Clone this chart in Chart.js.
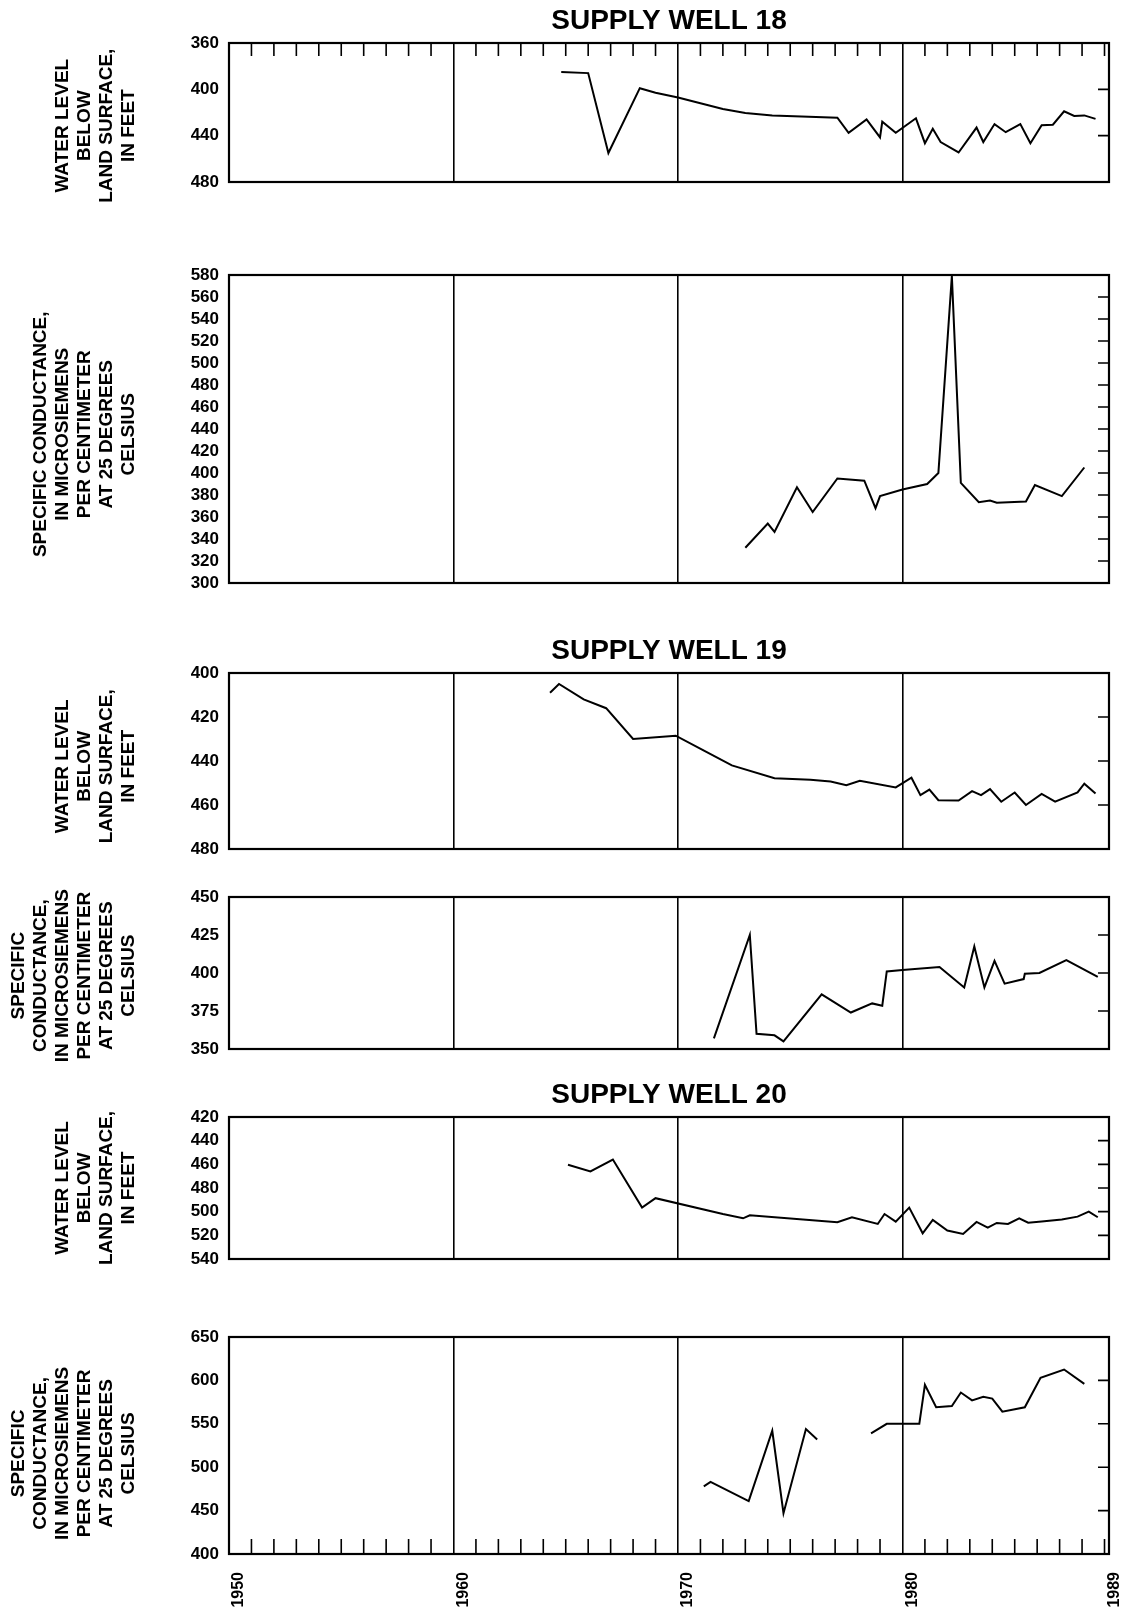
<!DOCTYPE html>
<html>
<head>
<meta charset="utf-8">
<script src="https://cdn.jsdelivr.net/npm/chart.js@4.4.1/dist/chart.umd.min.js"></script>
<style>
  html, body { margin: 0; padding: 0; background: #fff; overflow: hidden; }
  canvas { position: absolute; left: 0; }
</style>
</head>
<body>
<canvas id="c1"></canvas>
<canvas id="c2"></canvas>
<canvas id="c3"></canvas>
<canvas id="c4"></canvas>
<canvas id="c5"></canvas>
<canvas id="c6"></canvas>
<script>
// x axis
const xTickYears = [1950, 1960, 1970, 1980, 1989];
const gridYears = [1960, 1970, 1980];

// supply well 18
const w18LevelYears = [1964.8, 1966.0, 1966.9, 1968.3, 1969.0, 1970.0, 1971.0, 1972.0, 1973.0, 1974.2, 1975.5, 1977.1, 1977.6, 1978.4, 1979.0, 1979.1, 1979.7, 1980.6, 1981.0, 1981.35, 1981.7, 1982.5, 1983.3, 1983.6, 1984.1, 1984.6, 1985.25, 1985.7, 1986.2, 1986.7, 1987.2, 1987.65, 1988.1, 1988.6];
const w18LevelValues = [385, 386, 455, 399, 403, 407, 412, 417, 420.5, 422.5, 423.5, 424.5, 437.5, 426, 441.5, 428, 437.5, 425, 446.5, 434, 445.5, 454.5, 433, 445.5, 430, 437, 430, 446.5, 431, 430.5, 419, 423, 422.5, 425.5];
const w18CondYears = [1973.0, 1974.0, 1974.3, 1975.3, 1976.0, 1977.1, 1978.3, 1978.8, 1979.0, 1980.0, 1981.1, 1981.6, 1982.2, 1982.6, 1983.4, 1983.9, 1984.2, 1985.5, 1985.9, 1987.1, 1988.1];
const w18CondValues = [332, 354, 346.5, 387, 364.5, 395, 393, 368, 379, 385, 390, 400, 579, 391, 373.5, 375, 373, 374, 389, 379, 405];

// supply well 19
const w19LevelYears = [1964.3, 1964.7, 1965.8, 1966.8, 1968.0, 1969.9, 1971.2, 1972.4, 1974.3, 1975.9, 1976.8, 1977.5, 1978.1, 1979.7, 1980.4, 1980.8, 1981.2, 1981.6, 1982.5, 1983.1, 1983.5, 1983.9, 1984.4, 1985.0, 1985.5, 1986.2, 1986.8, 1987.8, 1988.1, 1988.6];
const w19LevelValues = [409, 405, 412, 416, 430, 428.5, 435.5, 442, 447.8, 448.5, 449.3, 451, 449, 452, 447.6, 455.5, 453, 457.8, 458, 453.7, 455.5, 452.8, 458.5, 454.3, 460, 455, 458.5, 454.3, 450.3, 454.8];
const w19CondYears = [1971.6, 1973.2, 1973.5, 1974.3, 1974.7, 1976.4, 1977.7, 1978.65, 1979.1, 1979.3, 1980.0, 1981.65, 1982.75, 1983.2, 1983.65, 1984.1, 1984.55, 1985.4, 1985.45, 1986.1, 1987.3, 1988.7];
const w19CondValues = [357, 425, 360, 359, 355, 386, 374, 380, 378.5, 401, 402, 404, 390.5, 417.5, 390.5, 408, 393, 396, 399.5, 400, 408.5, 397.5];

// supply well 20
const w20LevelYears = [1965.1, 1966.1, 1967.1, 1968.4, 1969.0, 1972.0, 1972.9, 1973.2, 1977.1, 1977.75, 1978.9, 1979.2, 1979.7, 1980.3, 1980.9, 1981.35, 1982.0, 1982.7, 1983.3, 1983.8, 1984.2, 1984.7, 1985.2, 1985.6, 1986.2, 1987.1, 1987.8, 1988.3, 1988.7];
const w20LevelValues = [460.4, 466, 456, 496.6, 488.6, 502, 505.6, 503, 509, 504.7, 510.4, 502, 508.4, 496.6, 518.3, 507, 516, 518.9, 508.7, 513.5, 509.5, 510.4, 505.6, 509.3, 508.4, 506.7, 504.2, 500, 504.7];
const w20CondYears = [1971.15, 1971.45, 1973.15, 1974.2, 1974.7, 1975.7, 1976.2, 1977.4, 1978.6, 1979.3, 1980.75, 1981.0, 1981.5, 1982.2, 1982.6, 1983.1, 1983.6, 1984.0, 1984.45, 1985.45, 1986.15, 1987.2, 1988.1];
const w20CondValues = [478, 483, 461, 542, 447, 544, 532, null, 539, 550, 550, 595, 569, 570.5, 586, 577, 581, 579, 564, 569, 603, 612.5, 596];

const levelLabel = ['WATER LEVEL', 'BELOW', 'LAND SURFACE,', 'IN FEET'];
const condLabelWide = ['SPECIFIC CONDUCTANCE,', 'IN MICROSIEMENS', 'PER CENTIMETER', 'AT 25 DEGREES', 'CELSIUS'];
const condLabel = ['SPECIFIC', 'CONDUCTANCE,', 'IN MICROSIEMENS', 'PER CENTIMETER', 'AT 25 DEGREES', 'CELSIUS'];

Chart.defaults.font.family = '"Liberation Sans", Arial, Helvetica, sans-serif';
Chart.defaults.color = '#000';

const PLOT_LEFT = 229;
const PLOT_RIGHT = 1109;
const W = 1135;
const LABEL_SIZE = 19;
const LABEL_STEP = 22;

// frame, inward y ticks on the right, short year ticks
const frameTicks = {
  id: 'frameTicks',
  afterDraw(chart, args, opts) {
    const { ctx, chartArea: a, scales: { x, y } } = chart;
    ctx.save();
    ctx.strokeStyle = '#000';
    ctx.lineWidth = 1.6;
    ctx.beginPath();
    y.ticks.forEach(t => {
      if (t.value === y.min || t.value === y.max) return;
      const py = y.getPixelForValue(t.value);
      ctx.moveTo(a.right - 11, py);
      ctx.lineTo(a.right, py);
    });
    if (opts.minor) {
      for (let yr = 1951; yr <= 1989; yr++) {
        if (yr % 10 === 0) continue;
        const px = x.getPixelForValue(yr);
        if (opts.minor === 'top') {
          ctx.moveTo(px, a.top);
          ctx.lineTo(px, a.top + 13);
        } else {
          ctx.moveTo(px, a.bottom - 15);
          ctx.lineTo(px, a.bottom);
        }
      }
    }
    ctx.stroke();
    ctx.lineWidth = 2.2;
    ctx.strokeRect(a.left, a.top, a.right - a.left, a.bottom - a.top);
    ctx.restore();
  }
};

// shift = trailing spaces that move the rotated axis title a little below the panel centre
const panels = [
  { id: 'c1', title: 'SUPPLY WELL 18', top: 43, bottom: 182, years: w18LevelYears, values: w18LevelValues, min: 360, max: 480, step: 40, reverse: true, label: levelLabel, shift: 5, minor: 'top' },
  { id: 'c2', top: 275, bottom: 583, years: w18CondYears, values: w18CondValues, min: 300, max: 580, step: 20, label: condLabelWide, shift: 2 },
  { id: 'c3', title: 'SUPPLY WELL 19', top: 673, bottom: 849, years: w19LevelYears, values: w19LevelValues, min: 400, max: 480, step: 20, reverse: true, label: levelLabel, shift: 2 },
  { id: 'c4', top: 897, bottom: 1049, years: w19CondYears, values: w19CondValues, min: 350, max: 450, step: 25, label: condLabel, shift: 1 },
  { id: 'c5', title: 'SUPPLY WELL 20', top: 1117, bottom: 1259, years: w20LevelYears, values: w20LevelValues, min: 420, max: 540, step: 20, reverse: true, label: levelLabel, shift: 0 },
  { id: 'c6', top: 1337, bottom: 1554, years: w20CondYears, values: w20CondValues, min: 400, max: 650, step: 50, label: condLabel, shift: 3, minor: 'bottom', xLabels: true }
];

function makeChart(p) {
  const topSpace = 45;
  const bottomSpace = p.xLabels ? 62 : 45;
  const xAxisH = p.xLabels ? 58 : 0;
  const titleBlock = p.title ? 28 * 1.2 + 5 : 0;
  const cv = document.getElementById(p.id);
  cv.width = W;
  cv.height = topSpace + (p.bottom - p.top) + bottomSpace;
  cv.style.top = (p.top - topSpace) + 'px';
  const n = p.label.length;
  const firstCenter = 129 - (n - 1) * LABEL_STEP;

  new Chart(cv, {
    type: 'line',
    data: {
      datasets: [{
        data: p.years.map((yr, i) => ({ x: yr, y: p.values[i] })),
        borderColor: '#000',
        borderWidth: 2,
        pointRadius: 0,
        tension: 0,
        spanGaps: false,
        fill: false
      }]
    },
    options: {
      responsive: false,
      animation: false,
      devicePixelRatio: 1,
      layout: { padding: { top: topSpace - titleBlock, bottom: bottomSpace - xAxisH, left: 0, right: W - PLOT_RIGHT } },
      plugins: {
        legend: { display: false },
        tooltip: { enabled: false },
        title: {
          display: !!p.title,
          text: p.title || '',
          fullSize: false,
          color: '#000',
          font: { size: 28, weight: 'bold', lineHeight: 1.2 },
          padding: { top: 0, bottom: 5 }
        },
        frameTicks: { minor: p.minor }
      },
      scales: {
        x: {
          type: 'linear',
          min: 1950,
          max: 1989.2,
          afterBuildTicks: s => { s.ticks = xTickYears.map(v => ({ value: v })); },
          afterFit: s => { s.height = xAxisH; s.paddingLeft = 0; s.paddingRight = 0; },
          border: { display: false },
          grid: {
            drawTicks: false,
            lineWidth: 1.6,
            color: c => (c.tick && gridYears.includes(c.tick.value)) ? '#000' : 'rgba(0,0,0,0)'
          },
          ticks: {
            display: !!p.xLabels,
            autoSkip: false,
            minRotation: 90,
            maxRotation: 90,
            padding: 18,
            labelOffset: 10,
            color: '#000',
            font: { size: 16, weight: 'bold' },
            callback: v => String(v)
          }
        },
        y: {
          type: 'linear',
          min: p.min,
          max: p.max,
          reverse: !!p.reverse,
          afterFit: s => { s.width = PLOT_LEFT; },
          border: { display: false },
          grid: { display: false, drawTicks: false },
          ticks: {
            stepSize: p.step,
            autoSkip: false,
            padding: 10,
            color: '#000',
            font: { size: 17, weight: 'bold' }
          },
          title: {
            display: true,
            text: p.label.map(s => s + ' '.repeat(p.shift)),
            color: '#000',
            font: { size: LABEL_SIZE, weight: 'bold', lineHeight: LABEL_STEP / LABEL_SIZE },
            padding: { top: firstCenter - LABEL_STEP / 2, bottom: 0 }
          }
        }
      }
    },
    plugins: [frameTicks]
  });
}

panels.forEach(makeChart);
</script>
</body>
</html>
